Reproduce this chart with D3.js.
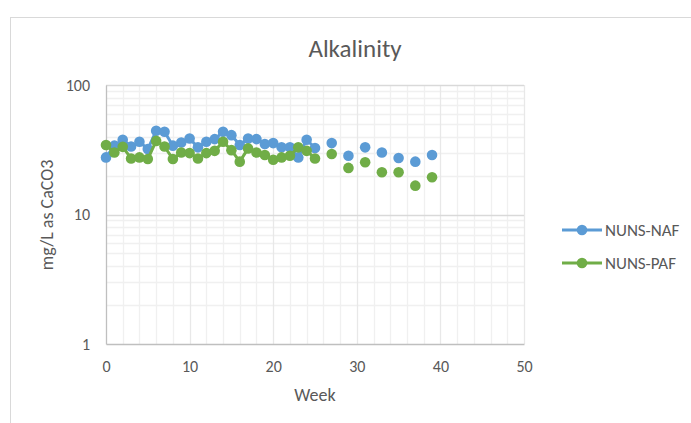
<!DOCTYPE html>
<html>
<head>
<meta charset="utf-8">
<script src="https://cdnjs.cloudflare.com/ajax/libs/d3/7.8.5/d3.min.js"></script>
<style>
  body { margin: 0; background: #fff; }
  text { font-family: Carlito, Calibri, Lato, sans-serif; fill: #595959; }
</style>
</head>
<body>
<div id="chart"></div>
<script>
// weekly samples, weeks 0-25 then every other week
var weeks = [0, 1, 2, 3, 4, 5, 6, 7, 8, 9, 10, 11, 12, 13, 14, 15, 16, 17, 18, 19, 20, 21, 22, 23, 24, 25,
  27, 29, 31, 33, 35, 37, 39];
var nunsNaf = [27.6, 34, 37.8, 33.5, 36.5, 32, 44.3, 43.5, 34, 36, 38.6, 33, 36.5, 38.2, 43.5, 41, 34.4, 38.6, 38.2, 35,
  35.6, 33, 33, 27.6, 37.8, 32.6,
  35.6, 28.4, 33, 30.1, 27.3, 25.6, 28.8];
var nunsPaf = [34.4, 30.1, 33.3, 27.1, 27.6, 26.8, 37, 33.5, 26.8, 30.1, 29.8, 27.1, 29.8, 31, 36.5, 31.4, 25.6, 32.4, 30.1, 28.8,
  26.5, 27.6, 28.4, 33, 31, 27.1,
  29.3, 22.9, 25.3, 21.2, 21.2, 16.7, 19.4];
var seriesNames = ["NUNS-NAF", "NUNS-PAF"];
var seriesColors = ["#5B9BD5", "#70AD47"];
var xTicks = [0, 10, 20, 30, 40, 50];
var yTicks = [1, 10, 100];

var svg = d3.select("#chart").append("svg").attr("width", 691).attr("height", 423),
  margin = {top: 85, right: 167, bottom: 79, left: 106},
  width = 691 - margin.left - margin.right,
  height = 423 - margin.top - margin.bottom;

// chart area border
svg.append("rect")
  .attr("x", 10.5).attr("y", 17.5)
  .attr("width", 700).attr("height", 500)
  .attr("fill", "none").attr("stroke", "#d9d9d9");

var g = svg.append("g").attr("transform", "translate(" + margin.left + "," + margin.top + ")");

var x = d3.scaleLinear().domain([0, 50]).range([0, width]);
var y = d3.scaleLog().domain([1, 100]).range([height, 0]);

// minor grid
var minorY = [];
[1, 10].forEach(function (b) {
  for (var k = 2; k < 10; k++) minorY.push(b * k);
});
g.selectAll(".minor-y").data(minorY).enter().append("line")
  .attr("x1", 0).attr("x2", width)
  .attr("y1", function (d) { return Math.round(y(d)) + 0.5; })
  .attr("y2", function (d) { return Math.round(y(d)) + 0.5; })
  .attr("stroke", "#f0f0f0").attr("stroke-width", 1.3);

g.selectAll(".minor-x").data(d3.range(2, 50, 2).filter(function (d) { return d % 10 != 0; })).enter().append("line")
  .attr("x1", function (d) { return Math.round(x(d)) + 0.5; })
  .attr("x2", function (d) { return Math.round(x(d)) + 0.5; })
  .attr("y1", 0).attr("y2", height)
  .attr("stroke", "#f0f0f0").attr("stroke-width", 1.3);

// major grid
g.selectAll(".major-x").data(xTicks.slice(1)).enter().append("line")
  .attr("x1", function (d) { return Math.round(x(d)) + 0.5; })
  .attr("x2", function (d) { return Math.round(x(d)) + 0.5; })
  .attr("y1", 0).attr("y2", height)
  .attr("stroke", "#e8e8e8").attr("stroke-width", 1.3);

g.selectAll(".major-y").data(yTicks.slice(1)).enter().append("line")
  .attr("x1", 0).attr("x2", width)
  .attr("y1", function (d) { return Math.round(y(d)) + 0.5; })
  .attr("y2", function (d) { return Math.round(y(d)) + 0.5; })
  .attr("stroke", "#d9d9d9").attr("stroke-width", 1.3);

// axes
var xAxis = g.append("g")
  .attr("transform", "translate(0," + height + ")")
  .call(d3.axisBottom(x).tickValues(xTicks).tickSize(0).tickPadding(17));
xAxis.select(".domain").attr("stroke", "#bfbfbf").attr("stroke-width", 1.3);
xAxis.selectAll("text").style("font-size", "16px").attr("fill", "#595959");

var yAxis = g.append("g")
  .call(d3.axisLeft(y).tickValues(yTicks).tickFormat(d3.format("d")).tickSize(0).tickPadding(16));
yAxis.select(".domain").attr("stroke", "#bfbfbf").attr("stroke-width", 1.3);
yAxis.selectAll("text").style("font-size", "16px").attr("fill", "#595959");

// series
var seriesData = [nunsNaf, nunsPaf].map(function (vals) {
  return weeks.map(function (w, i) { return {week: w, value: vals[i], prev: i > 0 ? weeks[i - 1] : null}; });
});

var line = d3.line()
  .x(function (d) { return x(d.week); })
  .y(function (d) { return y(d.value); });

seriesData.forEach(function (data, s) {
  // connect only consecutive weeks, gaps stay open
  var runs = [], cur = [];
  data.forEach(function (d) {
    if (cur.length && d.week - cur[cur.length - 1].week > 1) { runs.push(cur); cur = []; }
    cur.push(d);
  });
  runs.push(cur);

  var sg = g.append("g").attr("class", "serie");
  sg.selectAll("path").data(runs.filter(function (r) { return r.length > 1; })).enter().append("path")
    .attr("d", line)
    .attr("fill", "none")
    .attr("stroke", seriesColors[s])
    .attr("stroke-width", 3)
    .attr("stroke-linejoin", "round");
  sg.selectAll("circle").data(data).enter().append("circle")
    .attr("cx", function (d) { return x(d.week); })
    .attr("cy", function (d) { return y(d.value); })
    .attr("r", 5.3)
    .attr("fill", seriesColors[s]);
});

// titles
svg.append("text")
  .attr("x", 355).attr("y", 57)
  .attr("text-anchor", "middle")
  .style("font-size", "25px")
  .text("Alkalinity");

svg.append("text")
  .attr("x", margin.left + width / 2).attr("y", 401)
  .attr("text-anchor", "middle")
  .style("font-size", "18px")
  .text("Week");

svg.append("text")
  .attr("transform", "translate(53,215) rotate(-90)")
  .attr("text-anchor", "middle")
  .style("font-size", "18px")
  .text("mg/L as CaCO3");

// legend
var legend = svg.selectAll(".legend").data(seriesNames).enter().append("g")
  .attr("class", "legend")
  .attr("transform", function (d, i) { return "translate(562," + (230 + i * 33) + ")"; });
legend.append("line")
  .attr("x1", 0).attr("x2", 40)
  .attr("stroke", function (d, i) { return seriesColors[i]; })
  .attr("stroke-width", 3);
legend.append("circle")
  .attr("cx", 20).attr("r", 5.3)
  .attr("fill", function (d, i) { return seriesColors[i]; });
legend.append("text")
  .attr("x", 43).attr("dy", "0.35em")
  .style("font-size", "17px")
  .text(function (d) { return d; });
</script>
</body>
</html>
